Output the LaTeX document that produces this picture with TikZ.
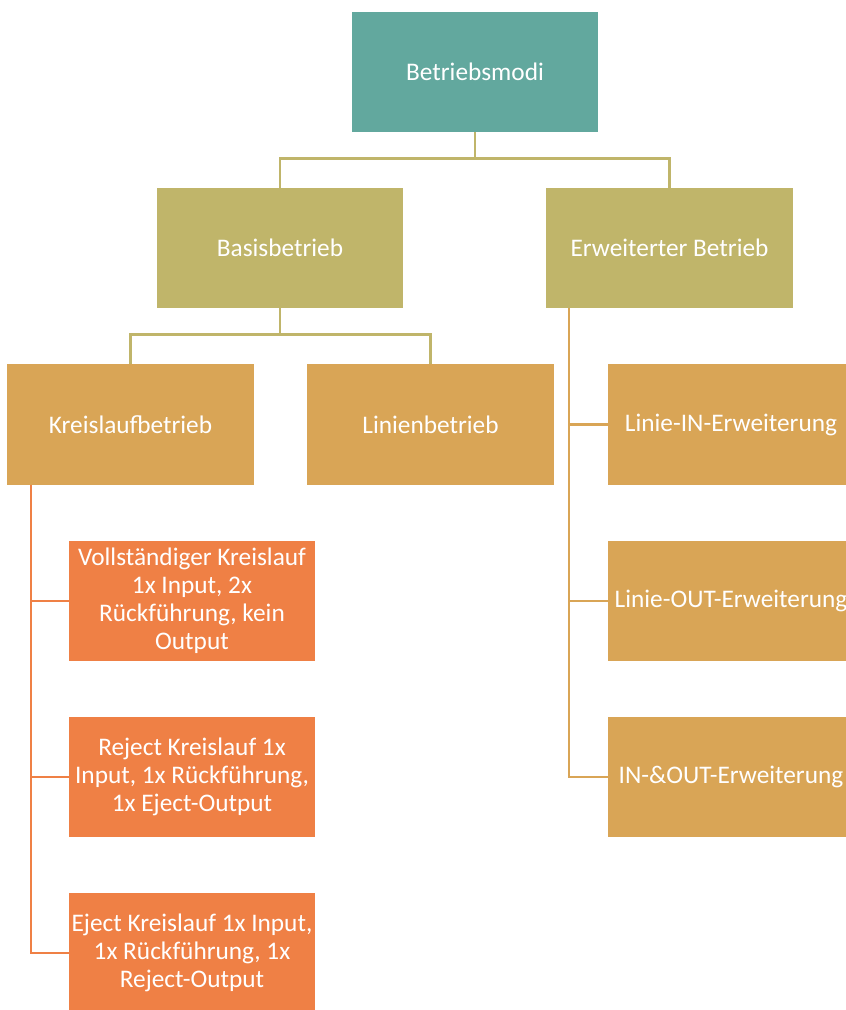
\documentclass[tikz,border=0pt]{standalone}
\usepackage{fontspec}
\setmainfont{Carlito}
\definecolor{modigruen}{RGB}{98,168,158}
\definecolor{basisoliv}{RGB}{192,181,106}
\definecolor{kreisgold}{RGB}{217,165,86}
\definecolor{variorange}{RGB}{239,128,69}
\hyphenpenalty=10000
\exhyphenpenalty=10000
\tikzset{
  box/.style={rectangle, minimum width=6.15cm, minimum height=3cm, inner ysep=0pt,
    inner xsep=-0.05cm, text=white, text width=6.25cm, align=flush center,
    font=\fontsize{18}{19.8}\selectfont},
  modibox/.style={box, fill=modigruen},
  basisbox/.style={box, fill=basisoliv},
  kreisbox/.style={box, fill=kreisgold},
  varbox/.style={box, fill=variorange},
  verbinder/.style={line width=1.8pt}
}
\begin{document}
\begin{tikzpicture}[x=0.025cm, y=0.025cm]
		\useasboundingbox (0,0) rectangle (846,-1010);
		
		%EBENE 1
		\node[modibox] (modi) at (475,-72) {Betriebsmodi};
		
		%EBENE 2
		\node[basisbox] (basis) at (280,-248) {Basisbetrieb};
		\node[basisbox] (erw) at (669.5,-248) {Erweiterter Betrieb};
		
		%EBENE 3
		\node[kreisbox] (kreis) at (130.5,-424.5) {Kreislaufbetrieb};
		\node[kreisbox] (linie) at (430.5,-424.5) {Linienbetrieb};
		\node[kreisbox] (lin) at (731,-424.5) {Linie-IN-Erweiterung};
		\node[kreisbox] (lout) at (731,-601) {Linie-OUT-Erweiterung};
		\node[kreisbox] (inout) at (731,-777) {IN-\&OUT-Erweiterung};
		
		%KREISLAUFVARIANTEN
		\node[varbox] (voll) at (192,-601) {Vollständiger Kreislauf 1x Input, 2x Rückführung, kein Output};
		\node[varbox] (reject) at (192,-777) {Reject Kreislauf 1x Input, 1x Rückführung, 1x Eject-Output};
		\node[varbox] (eject) at (192,-953) {Eject Kreislauf 1x Input, 1x Rückführung, 1x Reject-Output};
		
		%VERBINDER
		\draw[verbinder, basisoliv] (modi.south) -- ++(0,-26) coordinate (m1) -| (basis.north);
		\draw[verbinder, basisoliv] (m1) -| (erw.north);
		\draw[verbinder, basisoliv] (basis.south) -- ++(0,-26) coordinate (b1) -| (kreis.north);
		\draw[verbinder, basisoliv] (b1) -| (linie.north);
		
		\coordinate (e0) at ([xshift=23*0.025cm]erw.south west);
		\draw[verbinder, kreisgold] (e0) |- (lin.west);
		\draw[verbinder, kreisgold] (e0) |- (lout.west);
		\draw[verbinder, kreisgold] (e0) |- (inout.west);
		
		\coordinate (k0) at ([xshift=24*0.025cm]kreis.south west);
		\draw[verbinder, variorange] (k0) |- (voll.west);
		\draw[verbinder, variorange] (k0) |- (reject.west);
		\draw[verbinder, variorange] (k0) |- (eject.west);
	\end{tikzpicture}
\end{document}
